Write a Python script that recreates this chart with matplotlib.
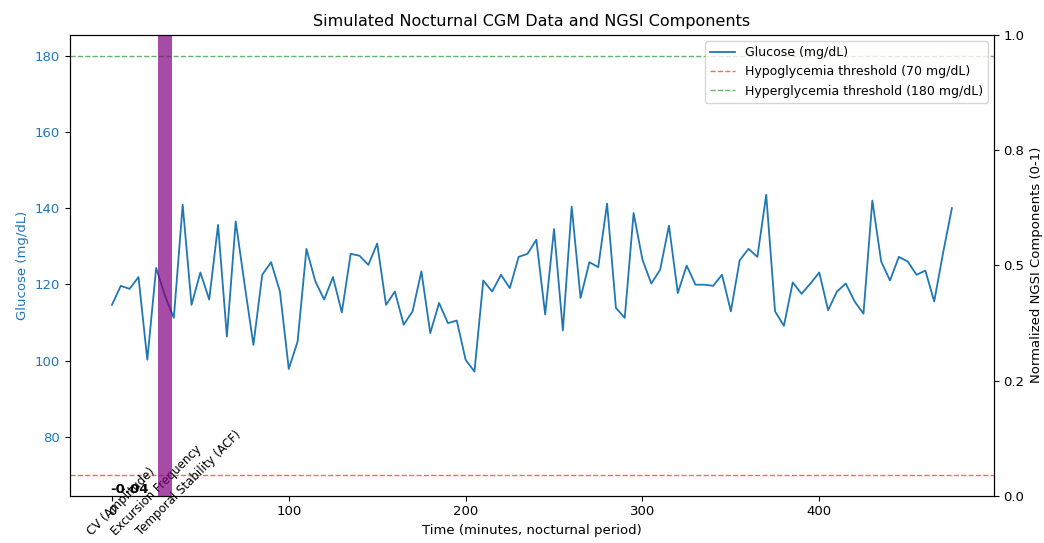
import numpy as np
import matplotlib.pyplot as plt
from matplotlib.ticker import FormatStrFormatter

# glucose readings every 5 minutes over the night
minutes = np.arange(0, 480, 5)
glucose = [114.6, 119.6, 118.8, 121.9, 100.2, 124.3, 117.0, 111.2, 140.9, 114.6,
           123.1, 116.0, 135.6, 106.3, 136.5, 120.0, 104.1, 122.5, 125.8, 118.1,
           97.8, 105.0, 129.3, 120.8, 116.0, 121.9, 112.6, 128.0, 127.5, 125.1,
           130.7, 114.6, 118.1, 109.4, 112.9, 123.4, 107.2, 115.1, 109.8, 110.5,
           100.2, 97.1, 121.0, 118.1, 122.5, 119.0, 127.2, 128.0, 131.7, 112.1,
           134.5, 107.9, 140.4, 116.4, 125.8, 124.5, 141.2, 113.8, 111.2, 138.7,
           126.5, 120.2, 123.8, 135.4, 117.7, 124.9, 119.9, 119.9, 119.6, 122.5,
           112.9, 126.3, 129.3, 127.2, 143.5, 112.9, 109.1, 120.5, 117.5, 120.2,
           123.1, 113.2, 118.1, 120.2, 115.5, 112.3, 142.0, 126.0, 121.0, 127.2,
           126.0, 122.5, 123.6, 115.5, 128.2, 140.0]

hypo = 70
hyper = 180

components = ['CV (Amplitude)', 'Excursion Frequency', 'Temporal Stability (ACF)']
comp_values = [-0.04, 1.2, np.nan]
comp_x = [10, 30, 50]
comp_colors = ['tab:orange', 'purple', 'tab:green']
label_x = [-10, 3.5, 17.5]

fig = plt.figure(figsize=(10.44, 5.43), dpi=100)
ax = fig.add_axes([0.067, 0.087, 0.885, 0.849])

ax.plot(minutes, glucose, color='tab:blue', lw=1.3, label='Glucose (mg/dL)')
ax.axhline(hypo, color='red', ls='--', lw=1, alpha=0.6, label='Hypoglycemia threshold (70 mg/dL)')
ax.axhline(hyper, color='green', ls='--', lw=1, alpha=0.6, label='Hyperglycemia threshold (180 mg/dL)')
ax.set_xlabel('Time (minutes, nocturnal period)', fontsize=9.5)
ax.set_ylabel('Glucose (mg/dL)', color='tab:blue', fontsize=9.5)
ax.tick_params(axis='y', labelcolor='tab:blue', labelsize=9.5)
ax.tick_params(axis='x', labelsize=9.5)
ax.set_title('Simulated Nocturnal CGM Data and NGSI Components', fontsize=11.5)
ax.legend(loc='upper right', fontsize=9)

ax2 = ax.twinx()
ax2.bar(comp_x, comp_values, width=8, color=comp_colors, alpha=0.7)
for x, v in zip(comp_x, comp_values):
    # only values that land inside the 0-1 window get a label
    if np.isfinite(v) and v <= 1:
        ax2.text(x, max(v, 0), f'{v:.2f}', ha='center', va='bottom',
                 fontweight='bold', fontsize=9.5)
ax2.set_ylim(0, 1)
ax2.set_yticks([0, 0.25, 0.5, 0.75, 1.0])
ax2.yaxis.set_major_formatter(FormatStrFormatter('%.1f'))
ax2.tick_params(axis='y', labelsize=9.5)
ax2.set_ylabel('Normalized NGSI Components (0-1)', fontsize=9.5)

for x, name in zip(label_x, components):
    ax.annotate(name, xy=(x, 0), xycoords=('data', 'axes fraction'),
                xytext=(0, -30.5), textcoords='offset points',
                rotation=45, rotation_mode='anchor', ha='left', va='bottom',
                fontsize=8.5, annotation_clip=False)

fig.savefig('out.png', dpi=100)
